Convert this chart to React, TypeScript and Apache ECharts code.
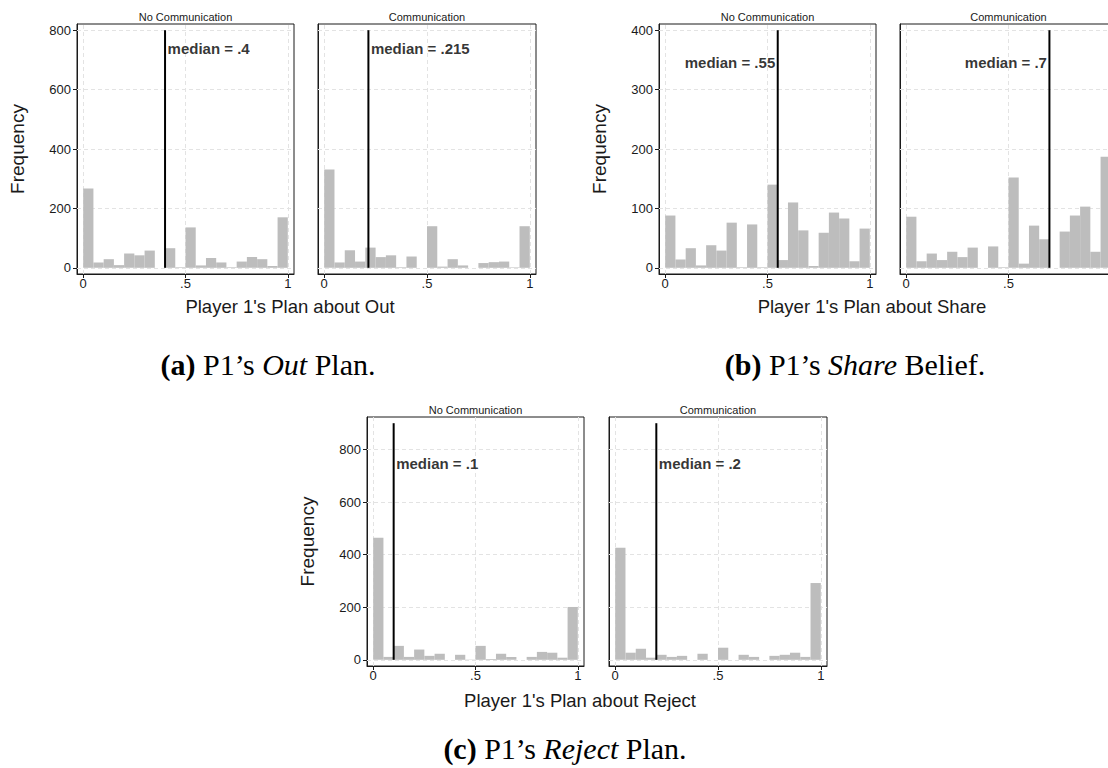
import { useEffect, useRef } from 'react';
import * as echarts from 'echarts';

const SANS = '"Liberation Sans", Arial, Helvetica, sans-serif';
const SERIF = '"Liberation Serif", "Times New Roman", serif';

// ---- data ----
const BIN_WIDTH = 0.05;
const X_TICKS = [0, 0.5, 1];
const X_TICK_LABELS = ['0', '.5', '1'];
const Y_TICKS_OUT = [0, 200, 400, 600, 800];
const Y_TICKS_SHARE = [0, 100, 200, 300, 400];
const Y_TICKS_REJECT = [0, 200, 400, 600, 800];
const PANEL_TITLES = ['No Communication', 'Communication'];
const X_TITLES = ["Player 1's Plan about Out", "Player 1's Plan about Share", "Player 1's Plan about Reject"];

const outNoComm = [267, 18, 29, 9, 48, 42, 58, 0, 66, 2, 136, 8, 33, 18, 2, 21, 36, 29, 6, 170];
const outComm = [331, 18, 59, 21, 68, 36, 42, 2, 38, 0, 140, 4, 29, 8, 0, 16, 19, 21, 2, 140];
const shareNoComm = [88, 14, 33, 4, 38, 29, 76, 1, 73, 1, 140, 13, 110, 63, 3, 59, 93, 83, 11, 66];
const shareComm = [86, 11, 24, 13, 27, 18, 34, 0, 36, 1, 152, 7, 71, 48, 0, 61, 88, 103, 27, 187];
const rejectNoComm = [464, 11, 53, 11, 39, 15, 23, 0, 19, 1, 53, 3, 23, 11, 0, 11, 30, 27, 8, 201];
const rejectComm = [426, 27, 42, 8, 19, 11, 15, 0, 23, 0, 46, 0, 19, 11, 0, 15, 19, 27, 11, 292];

const medianOut = [0.4, 0.215];
const medianShare = [0.55, 0.7];
const medianReject = [0.1, 0.2];
const medianLineTop = [800, 400, 900];
const medianLabelY = [740, 346, 746];

// ---- layout ----
type Panel = {
  left: number; top: number; width: number; height: number;
  values: number[]; median: number; lineTop: number; labelY: number;
  side: 'left' | 'right'; yTicks: number[]; showY: boolean; title: string; xLabels: number[];
};

const ALL_X = X_TICKS;
const CUT_X = [0, 0.5]; // the last panel runs past the right edge of the page

const panels: Panel[] = [
  { left: 77, top: 24, width: 217, height: 250, values: outNoComm, median: medianOut[0], lineTop: medianLineTop[0], labelY: medianLabelY[0], side: 'right', yTicks: Y_TICKS_OUT, showY: true, title: PANEL_TITLES[0], xLabels: ALL_X },
  { left: 318, top: 24, width: 218, height: 250, values: outComm, median: medianOut[1], lineTop: medianLineTop[0], labelY: medianLabelY[0], side: 'right', yTicks: Y_TICKS_OUT, showY: false, title: PANEL_TITLES[1], xLabels: ALL_X },
  { left: 659, top: 24, width: 217, height: 250, values: shareNoComm, median: medianShare[0], lineTop: medianLineTop[1], labelY: medianLabelY[1], side: 'left', yTicks: Y_TICKS_SHARE, showY: true, title: PANEL_TITLES[0], xLabels: ALL_X },
  { left: 900, top: 24, width: 217, height: 250, values: shareComm, median: medianShare[1], lineTop: medianLineTop[1], labelY: medianLabelY[1], side: 'left', yTicks: Y_TICKS_SHARE, showY: false, title: PANEL_TITLES[1], xLabels: CUT_X },
  { left: 367, top: 417, width: 217, height: 249, values: rejectNoComm, median: medianReject[0], lineTop: medianLineTop[2], labelY: medianLabelY[2], side: 'right', yTicks: Y_TICKS_REJECT, showY: true, title: PANEL_TITLES[0], xLabels: ALL_X },
  { left: 609, top: 417, width: 218, height: 249, values: rejectComm, median: medianReject[1], lineTop: medianLineTop[2], labelY: medianLabelY[2], side: 'right', yTicks: Y_TICKS_REJECT, showY: false, title: PANEL_TITLES[1], xLabels: ALL_X },
];

const xTitles = [
  { text: X_TITLES[0], x: 290, y: 306 },
  { text: X_TITLES[1], x: 872, y: 306 },
  { text: X_TITLES[2], x: 580, y: 700 },
];

const captions = [
  { text: '{b|(a)} P1’s {i|Out} Plan.', x: 268, y: 364 },
  { text: '{b|(b)} P1’s {i|Share} Belief.', x: 855, y: 364 },
  { text: '{b|(c)} P1’s {i|Reject} Plan.', x: 565, y: 748 },
];

const PAD = 6.2;
const CAPTION_SIZE = 30;
const fmtMedian = (m: number) => 'median = ' + String(m).replace(/^0/, '');

function buildOption() {
  const grids: any[] = [];
  const xAxes: any[] = [];
  const yAxes: any[] = [];
  const series: any[] = [];
  const graphics: any[] = [];

  panels.forEach((p, i) => {
    grids.push({
      left: p.left, top: p.top, width: p.width, height: p.height,
      show: true, borderColor: '#1a1a1a', borderWidth: 1, backgroundColor: 'transparent',
    });
    const innerW = p.width - 2 * PAD;
    const xPad = PAD / innerW;
    xAxes.push({
      type: 'value', gridIndex: i, min: -xPad, max: 1 + xPad,
      axisLine: { show: true, onZero: false, lineStyle: { color: '#1a1a1a', width: 1 } },
      axisTick: { show: true, customValues: X_TICKS, length: 4, lineStyle: { color: '#1a1a1a' } },
      axisLabel: {
        show: true, customValues: p.xLabels, margin: 3, fontSize: 13, color: '#1a1a1a', fontFamily: SANS,
        formatter: (v: number) => X_TICK_LABELS[X_TICKS.indexOf(v)] ?? '',
      },
      splitLine: { show: false },
    });
    const innerH = p.height - 2 * PAD;
    const yPad = (PAD * p.lineTop) / innerH;
    yAxes.push({
      type: 'value', gridIndex: i, min: -yPad, max: p.lineTop + yPad,
      name: p.showY ? 'Frequency' : '', nameLocation: 'middle', nameGap: 50,
      nameTextStyle: { fontSize: 19, color: '#1a1a1a', fontFamily: SANS },
      axisLine: { show: true, onZero: false, lineStyle: { color: '#1a1a1a', width: 1 } },
      axisTick: { show: p.showY, customValues: p.yTicks, length: 4, lineStyle: { color: '#1a1a1a' } },
      axisLabel: {
        show: p.showY, customValues: p.yTicks, margin: 6, fontSize: 13, color: '#1a1a1a', fontFamily: SANS,
        formatter: (v: number) => String(v),
      },
      splitLine: { show: false },
    });

    const gridLines = [
      ...p.yTicks.map((v) => ({ yAxis: v })),
      ...X_TICKS.map((v) => ({ xAxis: v })),
    ];

    series.push({
      type: 'custom', xAxisIndex: i, yAxisIndex: i, z: 2,
      data: p.values.map((v, k) => [k * BIN_WIDTH, (k + 1) * BIN_WIDTH, v]),
      encode: { x: [0, 1], y: 2 },
      renderItem: (_params: any, api: any) => {
        const a = api.coord([api.value(0), api.value(2)]);
        const b = api.coord([api.value(1), 0]);
        return {
          type: 'rect',
          shape: { x: a[0], y: a[1], width: b[0] - a[0], height: b[1] - a[1] },
          style: { fill: '#bdbdbd' },
        };
      },
    });
    series.push({
      type: 'line', xAxisIndex: i, yAxisIndex: i, z: 3,
      data: [[p.median, 0], [p.median, p.lineTop]],
      symbol: 'none', lineStyle: { color: '#000', width: 2 },
      markLine: {
        silent: true, symbol: 'none', z: 1, animation: false,
        label: { show: false },
        lineStyle: { color: '#e3e3e3', type: [4, 3], width: 1 },
        data: gridLines,
      },
    });
    series.push({
      type: 'scatter', xAxisIndex: i, yAxisIndex: i, z: 4,
      data: [[p.median, p.labelY]], symbolSize: 1, itemStyle: { color: 'rgba(0,0,0,0)' },
      label: {
        show: true, position: p.side, distance: 2, formatter: () => fmtMedian(p.median),
        fontSize: 15, fontWeight: 'bold', color: '#000', fontFamily: SANS,
      },
    });

    graphics.push({
      type: 'text', x: p.left + p.width / 2, y: p.top - 7,
      style: {
        text: p.title, fontSize: 11, fontFamily: SANS, fill: '#1a1a1a',
        align: 'center', verticalAlign: 'middle', textAlign: 'center', textVerticalAlign: 'middle',
      },
    });
  });

  xTitles.forEach((t) => {
    graphics.push({
      type: 'text', x: t.x, y: t.y,
      style: {
        text: t.text, fontSize: 18.5, fontFamily: SANS, fill: '#1a1a1a',
        align: 'center', verticalAlign: 'middle', textAlign: 'center', textVerticalAlign: 'middle',
      },
    });
  });

  captions.forEach((c) => {
    graphics.push({
      type: 'text', x: c.x, y: c.y,
      style: {
        text: c.text, fontSize: CAPTION_SIZE, fontFamily: SERIF, fill: '#000',
        align: 'center', verticalAlign: 'middle', textAlign: 'center', textVerticalAlign: 'middle',
        rich: {
          b: { fontWeight: 'bold', fontSize: CAPTION_SIZE, fontFamily: SERIF, fill: '#000' },
          i: { fontStyle: 'italic', fontSize: CAPTION_SIZE, fontFamily: SERIF, fill: '#000' },
        },
      },
    });
  });

  return {
    animation: false,
    backgroundColor: '#ffffff',
    grid: grids,
    xAxis: xAxes,
    yAxis: yAxes,
    series,
    graphic: graphics,
  };
}

export default function App() {
  const ref = useRef<HTMLDivElement>(null);
  useEffect(() => {
    if (!ref.current) return;
    const chart = echarts.init(ref.current, undefined, { renderer: 'svg' });
    chart.setOption(buildOption());
    return () => chart.dispose();
  }, []);
  return (
    <div style={{ position: 'fixed', left: 0, top: 0, width: 1108, height: 768, overflow: 'hidden', background: '#fff' }}>
      <div ref={ref} style={{ width: 1140, height: 768 }} />
    </div>
  );
}
